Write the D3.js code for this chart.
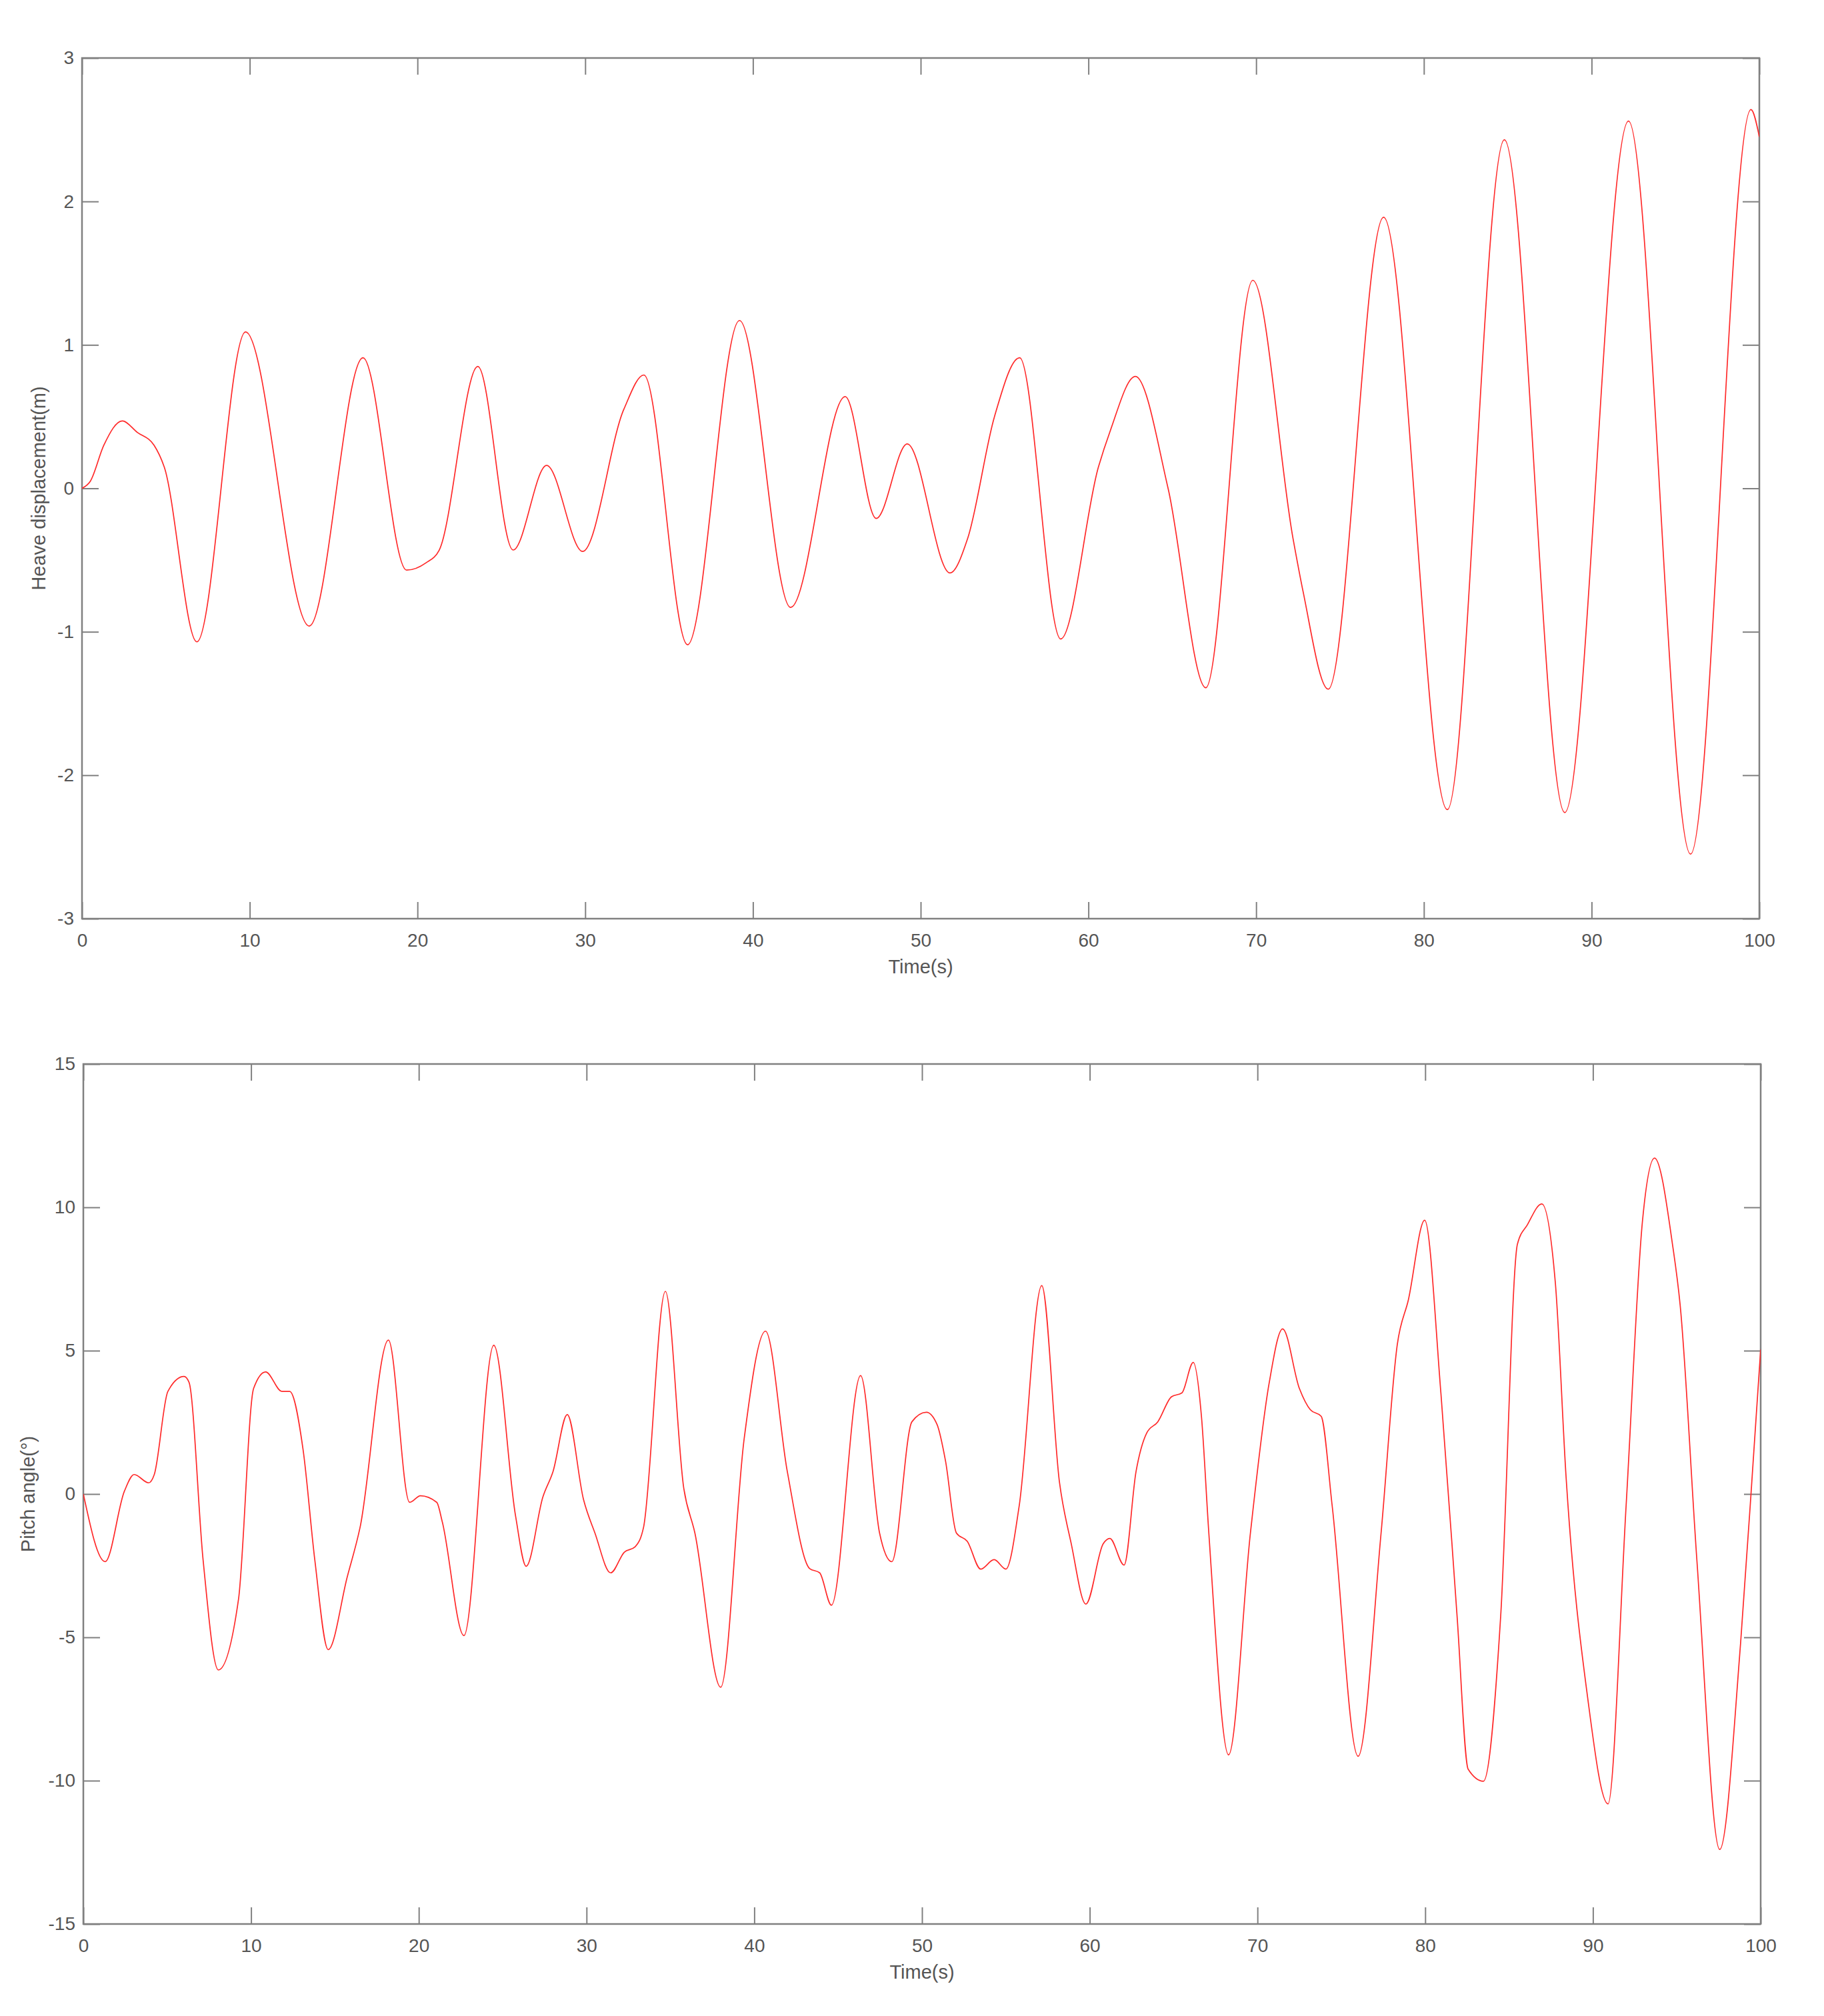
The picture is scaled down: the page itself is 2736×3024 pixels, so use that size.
<!DOCTYPE html>
<html>
<head>
<meta charset="utf-8">
<script src="https://cdn.jsdelivr.net/npm/d3@7"></script>
<style>
  body { margin: 0; background: #fff; }
  text { font-family: "Liberation Sans", Arial, sans-serif; }
</style>
</head>
<body>
<svg id="chart"></svg>
<script>
// time axis ticks (shared by both panels)
var timeTicks = [0, 10, 20, 30, 40, 50, 60, 70, 80, 90, 100];
var heaveTicks = [-3, -2, -1, 0, 1, 2, 3];
var pitchTicks = [-15, -10, -5, 0, 5, 10, 15];

// heave displacement (m)
var heaveTime = [0, 0.5, 1.3, 2.4, 3.3, 4.3, 4.9, 6.85, 9.75, 13.55, 16.75, 19.35, 20.5, 21.3, 23.6,
  25.7, 27.7, 29.85, 32.3, 33.5, 36.1, 39.2, 42.25, 45.5, 47.35, 49.2, 51.75, 52.8, 54.4, 55.9,
  58.35, 60.6, 61.3, 62.8, 64.75, 67.0, 69.8, 72.2, 72.8, 74.3, 77.6, 81.4, 84.8, 88.4, 92.2,
  95.9, 99.5, 100];
var heaveValue = [0, 0.05, 0.3, 0.47, 0.39, 0.3, 0.15, -1.07, 1.09, -0.96, 0.91, -0.57, -0.52, -0.43, 0.85,
  -0.43, 0.16, -0.44, 0.55, 0.79, -1.09, 1.17, -0.83, 0.64, -0.21, 0.31, -0.59, -0.35, 0.5, 0.91,
  -1.05, 0.15, 0.4, 0.78, 0.0, -1.39, 1.45, -0.35, -0.72, -1.40, 1.89, -2.24, 2.43, -2.26, 2.56,
  -2.55, 2.64, 2.45];

// pitch angle (deg)
var pitchTime = [0, 1.3, 2.45, 3.03, 3.9, 4.23, 5.04, 6.0, 6.3, 7.14, 8.05, 9.25, 10.15, 10.87, 11.84,
  12.3, 13.1, 13.8, 14.6, 15.73, 16.5, 18.19, 19.45, 20.1, 21.07, 21.4, 22.69, 24.47, 25.77, 26.4,
  27.4, 28.0, 28.85, 29.82, 30.5, 31.44, 32.25, 32.9, 33.4, 34.7, 35.8, 36.46, 38.0, 39.4, 40.67,
  41.97, 43.3, 43.9, 44.6, 46.34, 47.47, 48.2, 49.4, 50.26, 50.9, 51.4, 52.05, 52.7, 53.5, 54.3,
  55.0, 55.8, 57.14, 58.2, 58.9, 59.77, 60.8, 61.2, 62.05, 62.76, 63.4, 64.06, 64.87, 65.5, 66.17,
  66.66, 67.1, 68.28, 69.58, 70.7, 71.5, 72.5, 73.15, 73.8, 74.45, 76.0, 77.37, 78.34, 79.0, 79.97,
  80.94, 81.9, 82.56, 83.47, 84.5, 85.5, 86.1, 86.95, 87.76, 88.4, 89.7, 90.9, 91.98, 92.95, 93.67,
  94.74, 95.2, 96.2, 97.56, 98.8, 99.6, 100];
var pitchValue = [0, -2.36, 0.1, 0.68, 0.39, 0.68, 3.58, 4.1, 3.9, -2.3, -6.14, -3.68, 3.68, 4.26, 3.58,
  3.58, 1.55, -2.3, -5.43, -2.9, -1.16, 5.37, -0.29, -0.06, -0.29, -0.97, -4.94, 5.19, -0.77, -2.52,
  -0.1, 0.78, 2.77, -0.19, -1.36, -2.75, -2.03, -1.84, -1.16, 7.07, 0.19, -1.36, -6.74, 1.94, 5.68,
  0.78, -2.6, -2.75, -3.88, 4.13, -1.36, -2.36, 2.52, 2.85, 2.42, 1.16, -1.36, -1.65, -2.62, -2.29,
  -2.62, -0.39, 7.27, 0.39, -1.74, -3.84, -1.74, -1.55, -2.48, 0.78, 2.13, 2.52, 3.39, 3.53, 4.59,
  2.71, -1.36, -9.1, -1.36, 3.88, 5.76, 3.68, 2.94, 2.71, -0.39, -9.15, -1.36, 5.23, 6.78, 9.55,
  3.49, -4.26, -9.6, -10.02, -4.26, 8.72, 9.4, 10.12, 7.36, 0.58, -7.17, -10.81, -0.39, 9.5, 11.72,
  8.72, 6.59, -2.33, -12.4, -5.23, 1.55, 5.04];

var width = 2736, height = 3024;
var axisColor = "#808080", textColor = "#555555";

var svg = d3.select("#chart")
  .attr("width", width)
  .attr("height", height);

// plain labels with a hyphen minus, like the original
var plain = function(d) { return String(d); };

function drawPanel(opt) {
  var w = opt.right - opt.left, h = opt.bottom - opt.top;
  var g = svg.append("g")
    .attr("transform", "translate(" + opt.left + "," + opt.top + ")");

  var x = d3.scaleLinear().domain([0, 100]).range([0, w]);
  var y = d3.scaleLinear().domain(opt.yDomain).range([h, 0]);

  // bottom axis with labels, ticks pointing inward
  g.append("g")
    .attr("transform", "translate(0," + h + ")")
    .call(d3.axisBottom(x).tickValues(timeTicks).tickFormat(plain)
      .tickSizeInner(-25).tickSizeOuter(0).tickPadding(22));
  g.append("g")
    .call(d3.axisLeft(y).tickValues(opt.yTicks).tickFormat(plain)
      .tickSizeInner(-25).tickSizeOuter(0).tickPadding(12));
  // top and right: ticks only
  g.append("g")
    .call(d3.axisTop(x).tickValues(timeTicks).tickSizeInner(-25).tickSizeOuter(0).tickFormat(""));
  g.append("g")
    .attr("transform", "translate(" + w + ",0)")
    .call(d3.axisRight(y).tickValues(opt.yTicks).tickSizeInner(-25).tickSizeOuter(0).tickFormat(""));

  g.selectAll(".domain").remove();
  g.selectAll(".tick line").attr("stroke", axisColor).attr("stroke-width", 2);
  g.selectAll(".tick text")
    .style("font-size", "28px")
    .style("fill", textColor);

  g.append("rect")
    .attr("width", w)
    .attr("height", h)
    .attr("fill", "none")
    .attr("stroke", axisColor)
    .attr("stroke-width", 2.5);

  var data = opt.times.map(function(t, i) { return {t: t, v: opt.values[i]}; });

  var clipId = "clip" + opt.id;
  g.append("clipPath").attr("id", clipId)
    .append("rect").attr("width", w).attr("height", h);

  g.append("path")
    .datum(data)
    .attr("clip-path", "url(#" + clipId + ")")
    .attr("fill", "none")
    .attr("stroke", "#ff2a2a")
    .attr("stroke-width", 1.7)
    .attr("d", d3.line()
      .curve(d3.curveMonotoneX)
      .x(function(d) { return x(d.t); })
      .y(function(d) { return y(d.v); }));

  g.append("text")
    .attr("text-anchor", "middle")
    .attr("x", w / 2)
    .attr("y", h + 82)
    .text("Time(s)")
    .style("font-size", "29px")
    .style("fill", textColor);

  g.append("text")
    .attr("text-anchor", "middle")
    .attr("transform", "translate(" + (opt.yLabelX - opt.left) + "," + (h / 2) + ")rotate(-90)")
    .attr("dy", "0.35em")
    .text(opt.yLabel)
    .style("font-size", "29px")
    .style("fill", textColor);
}

drawPanel({
  id: 1, left: 123, right: 2639, top: 87, bottom: 1378,
  yDomain: [-3, 3], yTicks: heaveTicks,
  times: heaveTime, values: heaveValue,
  yLabel: "Heave displacement(m)", yLabelX: 58
});

drawPanel({
  id: 2, left: 125, right: 2641, top: 1596, bottom: 2886,
  yDomain: [-15, 15], yTicks: pitchTicks,
  times: pitchTime, values: pitchValue,
  yLabel: "Pitch angle(°)", yLabelX: 42
});
</script>
</body>
</html>
